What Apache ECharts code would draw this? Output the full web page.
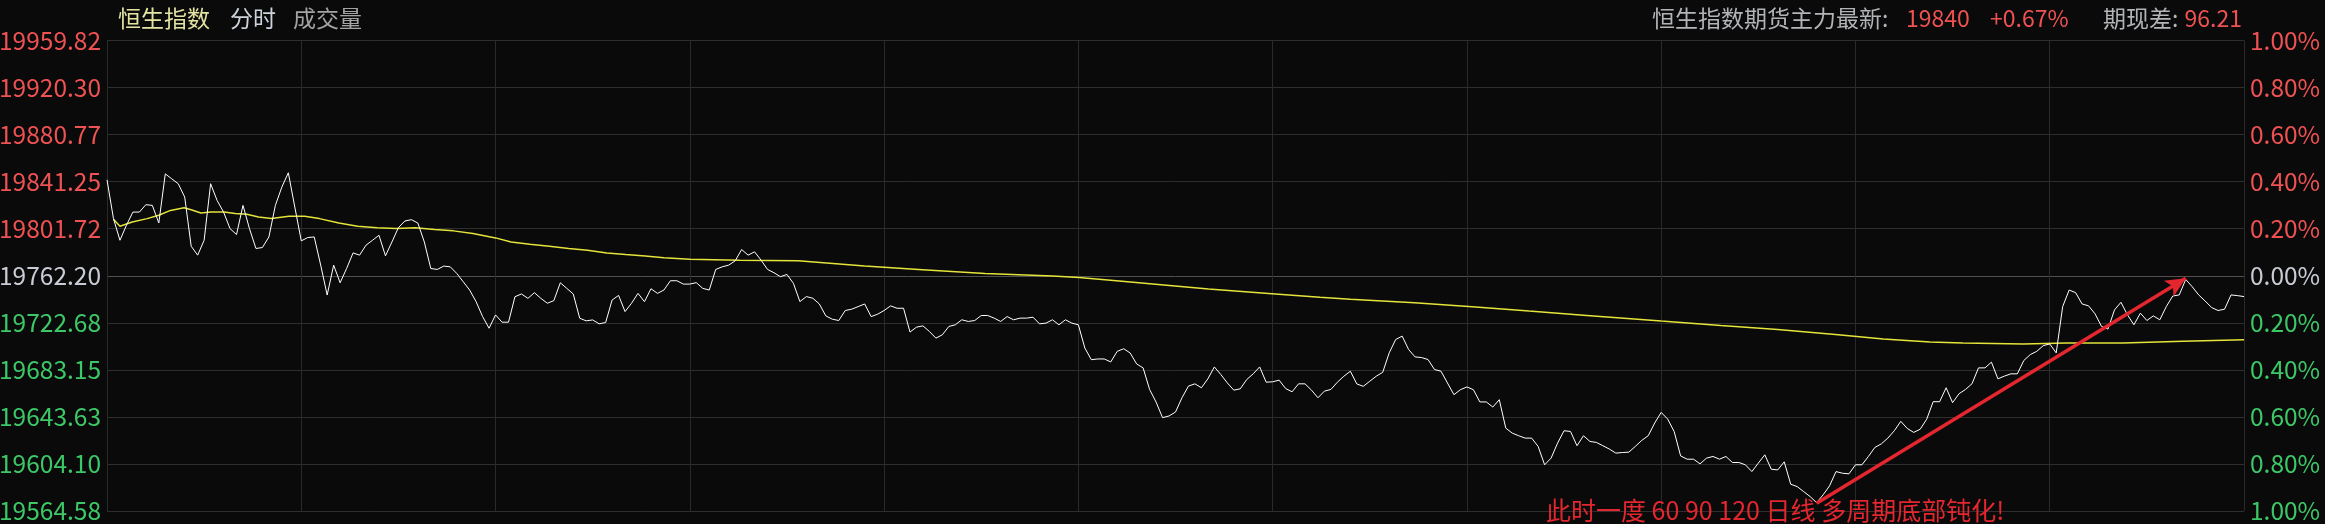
<!DOCTYPE html>
<html><head><meta charset="utf-8">
<script src="https://cdn.jsdelivr.net/npm/echarts@6/dist/echarts.min.js"></script>
<style>html,body{margin:0;padding:0;background:#0a0a0a;overflow:hidden}#c{width:2325px;height:524px;}</style>
</head><body><div id="c"></div><script>
// ---- DATA ----
const basePrice = 19762.20;      // previous close (0.00%)
const priceStep = 39.524;        // one grid step (0.20%)
const leftTicks = ['19959.82','19920.30','19880.77','19841.25','19801.72','19762.20','19722.68','19683.15','19643.63','19604.10','19564.58'];
const rightTicks = ['1.00%','0.80%','0.60%','0.40%','0.20%','0.00%','0.20%','0.40%','0.60%','0.80%','1.00%'];
// minute prices, 09:30 .. 16:00 (331 points)
const price = [
19842.8,19810.2,19792.0,19804.6,19815.7,19815.7,19821.9,19821.3,19806.5,19847.8,
19843.6,19839.5,19828.3,19787.0,19779.5,19792.0,19839.5,19825.5,19815.7,19801.8,
19796.8,19821.3,19801.8,19785.1,19785.9,19794.8,19821.3,19836.7,19848.7,19819.9,
19791.5,19794.3,19794.8,19771.1,19746.0,19771.1,19756.3,19768.3,19781.4,19779.5,
19787.9,19792.0,19796.2,19778.9,19790.6,19802.6,19808.2,19809.3,19806.5,19790.6,
19768.3,19767.5,19770.3,19769.7,19764.2,19757.2,19750.2,19740.4,19727.9,19718.1,
19729.3,19723.2,19723.2,19744.6,19746.9,19743.2,19748.0,19743.2,19739.1,19741.3,
19756.3,19751.6,19746.9,19726.5,19724.3,19725.1,19721.8,19722.9,19741.8,19745.7,
19732.1,19739.1,19747.4,19740.4,19751.3,19747.4,19750.2,19758.0,19758.0,19755.2,
19755.2,19756.4,19751.6,19750.2,19767.5,19769.7,19771.1,19774.7,19784.2,19779.5,
19782.3,19775.3,19767.5,19764.7,19761.4,19763.3,19755.8,19740.5,19744.7,19743.3,
19738.5,19728.5,19725.7,19724.6,19733.0,19734.1,19736.3,19738.5,19727.9,19729.9,
19733.0,19736.9,19734.9,19734.9,19714.9,19719.0,19720.1,19715.4,19709.8,19712.6,
19719.6,19721.0,19725.2,19723.8,19724.6,19728.8,19728.8,19726.6,19723.8,19727.9,
19725.2,19726.6,19726.6,19727.4,19721.8,19722.4,19725.2,19721.0,19725.2,19722.4,
19721.0,19701.5,19691.7,19692.3,19692.3,19689.8,19698.7,19700.9,19697.3,19688.1,
19684.8,19666.7,19656.1,19643.0,19644.4,19647.7,19659.7,19669.5,19671.4,19668.1,
19675.6,19685.6,19679.2,19672.2,19666.1,19667.2,19675.0,19679.8,19685.6,19672.8,
19673.1,19674.5,19667.5,19664.7,19671.4,19671.4,19666.1,19659.7,19665.3,19666.7,
19672.8,19677.8,19682.0,19671.3,19669.3,19673.6,19677.8,19681.1,19697.4,19708.6,
19711.5,19700.2,19694.0,19693.5,19691.8,19683.4,19682.0,19672.1,19662.3,19666.5,
19668.8,19666.5,19656.2,19656.2,19651.9,19658.1,19634.2,19630.0,19627.8,19625.8,
19625.8,19618.8,19603.4,19609.0,19621.6,19632.0,19631.4,19619.4,19627.8,19623.0,
19622.2,19619.4,19616.6,19613.2,19613.7,19614.0,19618.8,19623.9,19627.8,19638.5,
19647.4,19641.8,19631.4,19610.9,19608.1,19608.1,19604.2,19609.0,19610.4,19608.1,
19610.4,19605.3,19605.3,19603.4,19597.7,19604.8,19611.8,19599.7,19599.1,19605.9,
19587.1,19585.1,19580.9,19576.7,19571.6,19578.1,19585.7,19597.7,19596.3,19595.8,
19603.4,19603.4,19610.4,19618.0,19621.0,19625.8,19632.0,19639.9,19633.9,19630.6,
19633.3,19641.7,19656.4,19656.4,19668.1,19655.6,19663.1,19666.7,19671.5,19684.8,
19684.8,19689.6,19675.6,19677.9,19679.8,19679.8,19691.0,19696.0,19698.7,19703.5,
19704.9,19697.4,19736.3,19750.2,19748.0,19738.5,19736.9,19730.2,19719.6,19717.4,
19733.5,19739.9,19729.4,19721.0,19730.8,19724.6,19728.5,19725.2,19736.3,19745.2,
19746.1,19759.1,19753.0,19746.1,19741.0,19735.5,19733.0,19734.1,19746.1,19745.5,
19744.7
];
// average-price line, read at these minute positions
const avgIdx = [1,2,3.9,6.2,8,9.8,11.9,13,14.5,16,18.1,19.8,21.6,23.4,25.4,28.1,30.5,32.8,35.8,38.7,41.7,44.6,47.6,50.6,53.5,56.5,60,62.4,65.3,68.3,71.3,74.2,77.2,80.1,83.1,86,90,97.7,106.7,117,125.3,135.6,146,150.1,156.3,163.2,170.1,180.4,187.3,192,201.9,210.8,219.6,228.5,240,249.2,258,266.9,274.3,281.5,286.6,295.9,302.6,311.3,320.6,330];
const avgVal = [19809.6,19803.8,19807.4,19810.2,19813.0,19817.1,19819.4,19817.7,19814.9,19815.7,19815.7,19814.4,19813.8,19811.6,19810.2,19812.1,19812.1,19810.2,19806.5,19803.8,19802.6,19801.8,19802.6,19801.0,19799.9,19797.6,19794.0,19790.6,19788.7,19787.0,19785.1,19783.7,19781.4,19780.0,19778.7,19777.3,19776.1,19775.3,19774.7,19770.3,19767.5,19764.1,19761.9,19760.8,19757.7,19754.4,19751.1,19746.9,19744.1,19742.4,19739.5,19736.2,19732.5,19728.9,19724.1,19720.4,19717.1,19712.9,19709.0,19706.5,19705.7,19704.9,19705.7,19705.7,19707.1,19708.5];
const arrowFrom = [264, 19571.0];
const arrowTo = [321, 19760.0];
const annotation = '此时一度 60 90 120 日线 多周期底部钝化!';

// ---- CHART ----
const toY = p => (p - basePrice) / priceStep;
const FONT = '"Noto Sans CJK SC", "Noto Sans", sans-serif';
const labelColor = v => v > 0.01 ? '#ee5252' : (v < -0.01 ? '#3dc868' : '#c9ccd4');
const splitColors = [];
for (let i = 0; i <= 10; i++) splitColors.push(i === 5 ? '#505050' : '#2e2e2e');

const chart = echarts.init(document.getElementById('c'), null, {renderer: 'canvas'});
chart.setOption({
  backgroundColor: '#0a0a0a',
  animation: false,
  grid: {left: 107, right: 81, top: 40.5, bottom: 13, containLabel: false, outerBoundsMode: 'none'},
  xAxis: {
    type: 'value', min: 0, max: 330, interval: 30,
    axisLine: {show: false}, axisTick: {show: false}, axisLabel: {show: false},
    splitLine: {show: true, lineStyle: {color: '#2a2a2a', width: 1}}
  },
  yAxis: [{
    type: 'value', position: 'left', min: -5, max: 5, interval: 1,
    axisLine: {show: false}, axisTick: {show: false},
    axisLabel: {
      show: true, margin: 6, fontSize: 24.5, fontFamily: FONT,
      showMinLabel: true, showMaxLabel: true,
      formatter: v => leftTicks[5 - Math.round(v)],
      color: v => labelColor(v)
    },
    splitLine: {show: true, lineStyle: {color: splitColors, width: 1}}
  }, {
    type: 'value', position: 'right', min: -5, max: 5, interval: 1,
    axisLine: {show: false}, axisTick: {show: false},
    axisLabel: {
      show: true, margin: 6, fontSize: 24.5, fontFamily: FONT,
      showMinLabel: true, showMaxLabel: true,
      formatter: v => rightTicks[5 - Math.round(v)],
      color: v => labelColor(v)
    },
    splitLine: {show: false}
  }],
  series: [{
    type: 'line', name: 'avg',
    data: avgIdx.map((x, i) => [x, toY(avgVal[i])]),
    showSymbol: false, symbol: 'none',
    lineStyle: {color: '#e4e43a', width: 1.5},
    z: 2
  }, {
    type: 'line', name: 'price',
    data: price.map((p, i) => [i, toY(p)]),
    showSymbol: false, symbol: 'none',
    lineStyle: {color: '#ffffff', width: 1},
    z: 3,
    markLine: {
      silent: true, animation: false,
      symbol: ['none', 'arrow'], symbolSize: [14, 20],
      label: {show: false},
      lineStyle: {color: '#e4262f', width: 3.5, type: 'solid'},
      emphasis: {disabled: true},
      data: [[{coord: [arrowFrom[0], toY(arrowFrom[1])]}, {coord: [arrowTo[0], toY(arrowTo[1])]}]]
    }
  }],
  graphic: [
    {type: 'text', x: 118, y: 18, style: {text: '恒生指数', fill: '#e3e3a2', font: '23px ' + FONT, verticalAlign: 'middle'}},
    {type: 'text', x: 230, y: 18, style: {text: '分时', fill: '#ccd3dc', font: '23px ' + FONT, verticalAlign: 'middle'}},
    {type: 'text', x: 293, y: 18, style: {text: '成交量', fill: '#a4a4a4', font: '23px ' + FONT, verticalAlign: 'middle'}},
    {type: 'text', x: 1652, y: 18, style: {text: '恒生指数期货主力最新:', fill: '#b2b4b8', font: '23px ' + FONT, verticalAlign: 'middle'}},
    {type: 'text', x: 1906, y: 18, style: {text: '19840', fill: '#ee5252', font: '23px ' + FONT, verticalAlign: 'middle'}},
    {type: 'text', x: 1990, y: 18, style: {text: '+0.67%', fill: '#ee5252', font: '23px ' + FONT, verticalAlign: 'middle'}},
    {type: 'text', x: 2103, y: 18, style: {text: '期现差:', fill: '#b2b4b8', font: '23px ' + FONT, verticalAlign: 'middle'}},
    {type: 'text', x: 2242, y: 18, style: {text: '96.21', fill: '#ee5252', font: '23px ' + FONT, verticalAlign: 'middle', align: 'right'}},
    {type: 'text', x: 1546, y: 510, z: 10, style: {text: annotation, fill: '#e4262f', font: '25px ' + FONT, verticalAlign: 'middle'}}
  ]
});
</script></body></html>
